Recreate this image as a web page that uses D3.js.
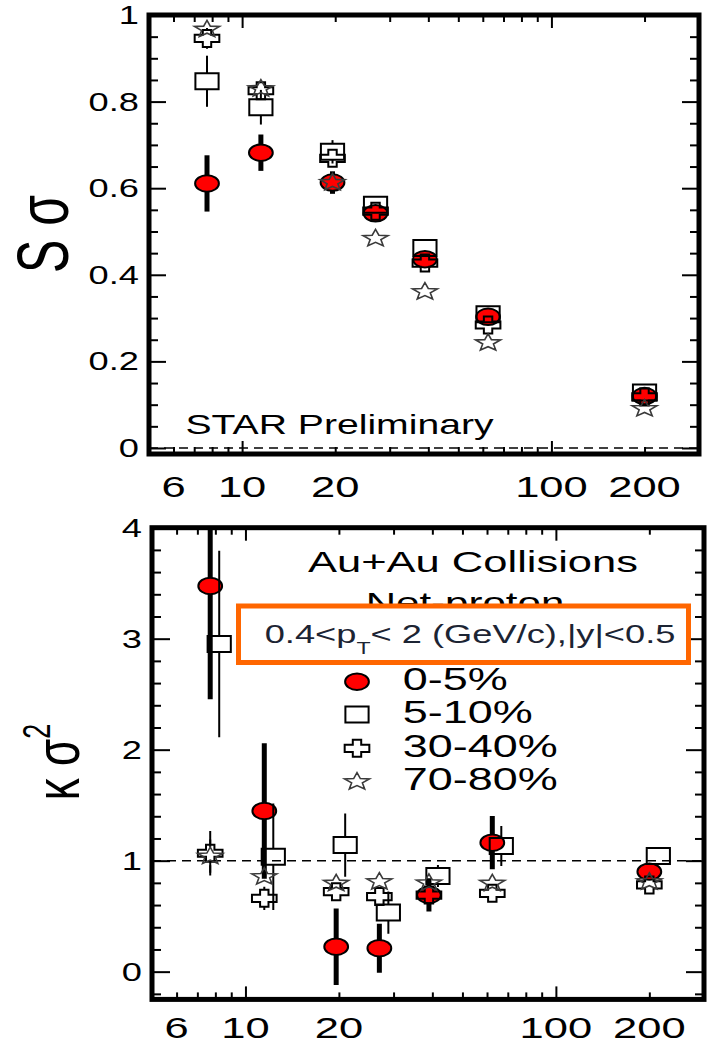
<!DOCTYPE html>
<html>
<head>
<meta charset="utf-8">
<script src="https://cdn.jsdelivr.net/npm/d3@7"></script>
<style>
  body { margin: 0; background: #fff; }
  svg { display: block; }
  text { font-family: "Liberation Sans", Arial, Helvetica, sans-serif; fill: #000; }
</style>
</head>
<body>
<svg id="fig" width="709" height="1046"></svg>
<script>
// Collision energies sqrt(s_NN) in GeV
const energies = [7.7, 11.5, 19.6, 27, 39, 62.4, 200];
const centralities = ["0-5%", "5-10%", "30-40%", "70-80%"];

// S*sigma of net-proton distributions
const skew0_5     = [0.611, 0.682, 0.613, 0.542, 0.436, 0.303, 0.120];
const skew0_5Err  = [0.065, 0.042, 0.026, 0.015, 0.012, 0.012, 0.008];
const skew5_10    = [0.847, 0.787, 0.684, 0.562, 0.462, 0.309, 0.128];
const skew5_10Err = [0.059, 0.040, 0.027, 0.015, 0.015, 0.015, 0.010];
const skew30_40   = [0.946, 0.825, 0.669, 0.547, 0.427, 0.284, 0.118];
const skew30_40Err= [0.024, 0.015, 0.010, 0.010, 0.008, 0.008, 0.005];
const skew70_80   = [0.967, 0.830, 0.613, 0.484, 0.361, 0.243, 0.091];
const skew70_80Err= [0.020, 0.012, 0.010, 0.010, 0.008, 0.006, 0.005];

// kappa*sigma^2 of net-proton distributions
const kurt0_5     = [3.475, 1.448, 0.225, 0.211, 0.691, 1.162, 0.901];
const kurt0_5Err  = [1.020, 0.610, 0.345, 0.220, 0.150, 0.240, 0.060];
const kurt5_10    = [2.952, 1.036, 1.141, 0.532, 0.862, 1.132, 1.042];
const kurt5_10Err = [0.840, 0.480, 0.285, 0.190, 0.100, 0.180, 0.070];
const kurt30_40   = [1.067, 0.661, 0.721, 0.676, 0.690, 0.706, 0.781];
const kurt30_40Err= [0.200, 0.105, 0.050, 0.050, 0.040, 0.040, 0.030];
const kurt70_80   = [1.040, 0.856, 0.796, 0.811, 0.800, 0.796, 0.810];
const kurt70_80Err= [0.150, 0.080, 0.060, 0.060, 0.050, 0.050, 0.040];

// Axis ticks
const xDomain = [5, 300];
const xTickLabels = [6, 10, 20, 100, 200];
const xMajor = [10, 100];
const xMinor = [6, 7, 8, 9, 20, 30, 40, 50, 60, 70, 80, 90, 200];
const skewTicks = [0, 0.2, 0.4, 0.6, 0.8, 1];
const skewMinor = d3.range(0, 21).filter(i => i % 4 !== 0).map(i => i * 0.05);
const kurtTicks = [0, 1, 2, 3, 4];
const kurtMinor = d3.range(-1, 20).filter(i => i % 5 !== 0).map(i => i * 0.2);

// The whole figure is drawn with a horizontal stretch of glyphs and markers
const SX = 1.45;
const shapes = ["circle", "square", "cross", "star"];
const HALF = { circle: 8.2, square: 8, cross: 8.5, star: 9 };

const svg = d3.select("#fig");

function starPath(R, r) {
  const pts = d3.range(10).map(i => {
    const a = -Math.PI / 2 + i * Math.PI / 5;
    const rad = i % 2 ? r : R;
    return [rad * Math.cos(a), rad * Math.sin(a)];
  });
  return "M" + pts.map(p => p.join(",")).join("L") + "Z";
}
const crossPath = (() => {
  const ax = 2.9, ay = 3.6, h = 8.5;
  return `M${-ax},${-h}H${ax}V${-ay}H${h}V${ay}H${ax}V${h}H${-ax}V${ay}H${-h}V${-ay}H${-ax}Z`;
})();

function marker(g, shape, cx, cy) {
  const t = `translate(${cx},${cy}) scale(${SX},1)`;
  let m;
  if (shape === "circle") {
    m = g.append("circle").attr("r", HALF.circle).attr("fill", "#ff0000")
      .attr("stroke", "#000").attr("stroke-width", 2);
  } else if (shape === "square") {
    m = g.append("rect").attr("x", -8).attr("y", -8).attr("width", 16).attr("height", 16)
      .attr("fill", "none").attr("stroke", "#000").attr("stroke-width", 2);
  } else if (shape === "cross") {
    m = g.append("path").attr("d", crossPath).attr("fill", "none")
      .attr("stroke", "#000").attr("stroke-width", 2);
  } else {
    m = g.append("path").attr("d", starPath(9, 3.9)).attr("fill", "none")
      .attr("stroke", "#3a3a3a").attr("stroke-width", 1.6);
  }
  m.attr("transform", t).attr("vector-effect", "non-scaling-stroke");
}

function label(g, str, x, y, size, anchor) {
  return g.append("text")
    .attr("transform", `translate(${x},${y}) scale(${SX},1)`)
    .attr("text-anchor", anchor || "start")
    .style("font-size", size + "px")
    .text(str);
}

function panel(opt) {
  const g = svg.append("g");
  const x = d3.scaleLog().domain(xDomain).range([opt.left, opt.right]);
  const y = d3.scaleLinear().domain(opt.yDomain).range([opt.bottom, opt.top]);

  const clipId = opt.id + "-clip";
  svg.append("clipPath").attr("id", clipId).append("rect")
    .attr("x", opt.left).attr("y", opt.top)
    .attr("width", opt.right - opt.left).attr("height", opt.bottom - opt.top);

  // inward ticks on all four sides
  const axes = [
    [d3.axisBottom(x).tickValues(xMajor).tickSize(-13), `translate(0,${opt.bottom})`],
    [d3.axisBottom(x).tickValues(xMinor).tickSize(-7), `translate(0,${opt.bottom})`],
    [d3.axisTop(x).tickValues(xMajor).tickSize(-13), `translate(0,${opt.top})`],
    [d3.axisTop(x).tickValues(xMinor).tickSize(-7), `translate(0,${opt.top})`],
    [d3.axisLeft(y).tickValues(opt.yMajor).tickSize(-opt.majorLen), `translate(${opt.left},0)`],
    [d3.axisLeft(y).tickValues(opt.yMinor).tickSize(-9), `translate(${opt.left},0)`],
    [d3.axisRight(y).tickValues(opt.yMajor).tickSize(-opt.majorLen), `translate(${opt.right},0)`],
    [d3.axisRight(y).tickValues(opt.yMinor).tickSize(-9), `translate(${opt.right},0)`]
  ];
  axes.forEach(([ax, tr]) => {
    const a = g.append("g").attr("transform", tr).call(ax.tickFormat(""));
    a.select(".domain").remove();
    a.selectAll(".tick text").remove();
    a.selectAll(".tick line").attr("stroke", "#000").attr("stroke-width", 2);
  });

  // tick labels
  opt.yMajor.forEach(v => {
    label(g, d3.format("~g")(v), opt.left - 10, y(v), 25, "end").attr("dy", "0.36em");
  });
  xTickLabels.forEach(v => {
    label(g, String(v), x(v), opt.bottom + opt.labelGap, 30, "middle");
  });

  // reference line
  g.append("line")
    .attr("x1", opt.left).attr("x2", opt.right)
    .attr("y1", y(opt.refLine)).attr("y2", y(opt.refLine))
    .attr("stroke", "#000").attr("stroke-width", 1.5).attr("stroke-dasharray", "9,6");

  // data
  const data = svg.append("g");
  opt.series.forEach((s, k) => {
    const shape = shapes[k];
    const dx = opt.dodge[k];
    const eg = data.append("g").attr("clip-path", `url(#${clipId})`);
    const mg = data.append("g");
    energies.forEach((e, i) => {
      const cx = x(e) + dx, cy = y(s.v[i]);
      const yHi = y(s.v[i] + s.e[i]), yLo = y(s.v[i] - s.e[i]);
      const gap = shape === "circle" ? 0 : HALF[shape];
      const w = shape === "circle" ? 5 : 2;
      if (cy - yHi > gap) eg.append("line").attr("x1", cx).attr("x2", cx)
        .attr("y1", yHi).attr("y2", cy - gap).attr("stroke", "#000").attr("stroke-width", w);
      if (yLo - cy > gap) eg.append("line").attr("x1", cx).attr("x2", cx)
        .attr("y1", cy + gap).attr("y2", yLo).attr("stroke", "#000").attr("stroke-width", w);
      marker(mg, shape, cx, cy);
    });
  });

  // frame
  g.append("rect").attr("x", opt.left).attr("y", opt.top)
    .attr("width", opt.right - opt.left).attr("height", opt.bottom - opt.top)
    .attr("fill", "none").attr("stroke", "#000").attr("stroke-width", 5);
  return { g, x, y };
}

// Upper panel: S*sigma
const skewPanel = panel({
  id: "skew", left: 149, right: 699, top: 15, bottom: 454, labelGap: 42.5,
  yDomain: [-0.0139, 1], yMajor: skewTicks, yMinor: skewMinor, majorLen: 17,
  refLine: 0, dodge: [0, 0, 0, 0],
  series: [
    { v: skew0_5, e: skew0_5Err }, { v: skew5_10, e: skew5_10Err },
    { v: skew30_40, e: skew30_40Err }, { v: skew70_80, e: skew70_80Err }
  ]
});
label(svg, "STAR Preliminary", 185.5, 434, 27, "start");

// Lower panel: kappa*sigma^2
const kurtPanel = panel({
  id: "kurt", left: 152, right: 704, top: 527.7, bottom: 999.4, labelGap: 39,
  yDomain: [-0.25, 4], yMajor: kurtTicks, yMinor: kurtMinor, majorLen: 18,
  refLine: 1, dodge: [0, 9, 0, 0],
  series: [
    { v: kurt0_5, e: kurt0_5Err }, { v: kurt5_10, e: kurt5_10Err },
    { v: kurt30_40, e: kurt30_40Err }, { v: kurt70_80, e: kurt70_80Err }
  ]
});

// y-axis titles
svg.append("text")
  .attr("transform", `translate(68,234) rotate(-90) scale(1,${SX})`)
  .attr("text-anchor", "middle").style("font-size", "50px")
  .text("S σ");
const kt = svg.append("text")
  .attr("transform", `translate(79,762) rotate(-90) scale(1,${SX})`)
  .attr("text-anchor", "middle").style("font-size", "44px");
kt.append("tspan").text("κ σ");
kt.append("tspan").attr("dy", -20).style("font-size", "27px").text("2");

// Legend block
label(svg, "Au+Au Collisions", 473, 572, 30, "middle");
label(svg, "Net-proton", 465, 613, 29, "middle");
svg.append("rect").attr("x", 238.5).attr("y", 606).attr("width", 450).attr("height", 56.5)
  .attr("fill", "#fff").attr("stroke", "#ff6600").attr("stroke-width", 5);
const cut = label(svg, "", 264.7, 643.3, 25, "start").style("fill", "#1c2433");
cut.append("tspan").text("0.4<p");
cut.append("tspan").attr("dy", 11).style("font-size", "16px").text("T");
cut.append("tspan").attr("dy", -11).text("< 2 (GeV/c),|y|<0.5");

const legendRows = [681.7, 714.5, 748.3, 781.7];
centralities.forEach((c, k) => {
  marker(svg, shapes[k], 357, legendRows[k]);
  label(svg, c, 402.7, legendRows[k] + 8.6, 31, "start");
});
</script>
</body>
</html>
